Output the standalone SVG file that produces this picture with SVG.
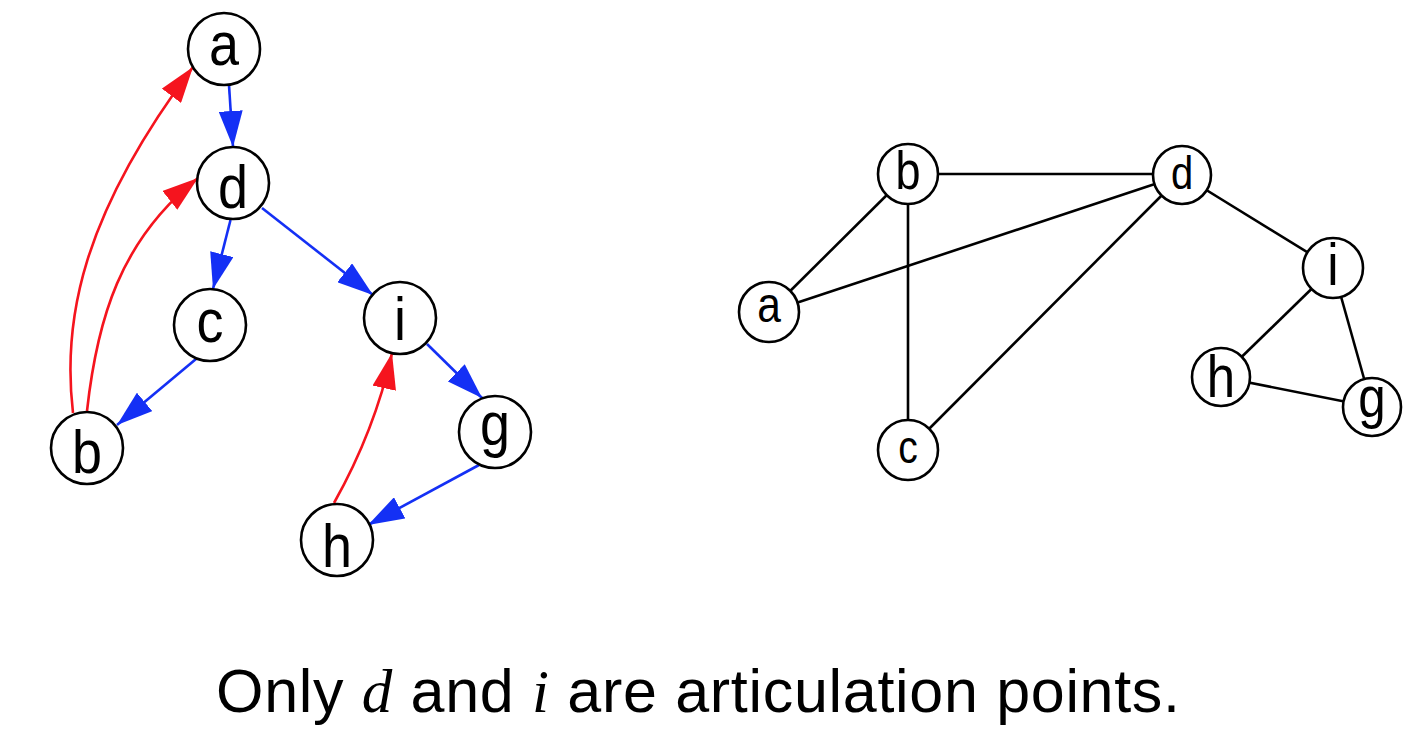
<svg xmlns="http://www.w3.org/2000/svg" width="1420" height="736" viewBox="0 0 1420 736">
<style>
.node{fill:#fff;stroke:#000;stroke-width:2.6}
.lbl{font-family:"Liberation Sans",Arial,sans-serif;text-anchor:middle;fill:#000}
.blue{fill:none;stroke:#1430f5;stroke-width:2.6}
.red{fill:none;stroke:#f5141e;stroke-width:2.6}
.und{stroke:#000;stroke-width:2.6;fill:none}
.cap{font-family:"Liberation Sans",Arial,sans-serif;font-size:61px;fill:#000}
.math{font-family:"Liberation Serif","Times New Roman",serif;font-style:italic}
</style>
<defs>
<marker id="ab" markerUnits="userSpaceOnUse" markerWidth="36" markerHeight="24" refX="36" refY="12" orient="auto" viewBox="0 0 36 24">
<path d="M0,0 L36,12 L0,24 Z" fill="#1430f5"/>
</marker>
<marker id="ar" markerUnits="userSpaceOnUse" markerWidth="36" markerHeight="24" refX="36" refY="12" orient="auto" viewBox="0 0 36 24">
<path d="M0,0 L36,12 L0,24 Z" fill="#f5141e"/>
</marker>
</defs>
<g id="connectors">
<path class="blue" marker-end="url(#ab)" d="M229,85 L233,147"/>
<path class="blue" marker-end="url(#ab)" d="M230.5,220 L213,289"/>
<path class="blue" marker-end="url(#ab)" d="M262,208 L373,295"/>
<path class="blue" marker-end="url(#ab)" d="M196,359 L117,425"/>
<path class="blue" marker-end="url(#ab)" d="M427,344 L482,398"/>
<path class="blue" marker-end="url(#ab)" d="M479,465 L368,525"/>
<path class="red" marker-end="url(#ar)" d="M73,413 C62,320 82,215 193,67"/>
<path class="red" marker-end="url(#ar)" d="M87,411 C97,320 120,240 198,178"/>
<path class="red" marker-end="url(#ar)" d="M334,503 Q375,430 392,353"/>
<line class="und" x1="908" y1="174" x2="1182" y2="174"/>
<line class="und" x1="769" y1="312" x2="908" y2="174"/>
<line class="und" x1="769" y1="312" x2="1182" y2="175"/>
<line class="und" x1="908" y1="174" x2="908" y2="450"/>
<line class="und" x1="908" y1="450" x2="1182" y2="175"/>
<line class="und" x1="1182" y1="175" x2="1333" y2="268"/>
<line class="und" x1="1333" y1="268" x2="1221" y2="377"/>
<line class="und" x1="1333" y1="268" x2="1372" y2="407"/>
<line class="und" x1="1221" y1="377" x2="1372" y2="407"/>
</g>
<g id="L_a"><circle class="node" cx="224" cy="49" r="36"/><text class="lbl" font-size="62" transform="translate(224,65) scale(0.87,1)">a</text></g>
<g id="L_d"><circle class="node" cx="233" cy="183" r="36"/><text class="lbl" font-size="62" transform="translate(233,208) scale(0.87,1)">d</text></g>
<g id="L_c"><circle class="node" cx="210" cy="325" r="36"/><text class="lbl" font-size="62" transform="translate(210,342) scale(0.87,1)">c</text></g>
<g id="L_i"><circle class="node" cx="400" cy="318" r="36"/><text class="lbl" font-size="62" transform="translate(400,340) scale(0.87,1)">i</text></g>
<g id="L_b"><circle class="node" cx="87" cy="448" r="36"/><text class="lbl" font-size="62" transform="translate(87,473) scale(0.87,1)">b</text></g>
<g id="L_g"><circle class="node" cx="495" cy="432" r="36"/><text class="lbl" font-size="62" transform="translate(495,445) scale(0.87,1)">g</text></g>
<g id="L_h"><circle class="node" cx="337" cy="540" r="36"/><text class="lbl" font-size="62" transform="translate(337,567) scale(0.87,1)">h</text></g>
<g id="R_a"><circle class="node" cx="769" cy="312" r="30"/><text class="lbl" font-size="50" transform="translate(769,322) scale(0.85,1)">a</text></g>
<g id="R_b"><circle class="node" cx="908" cy="174" r="30"/><text class="lbl" font-size="53" transform="translate(908,189) scale(0.85,1)">b</text></g>
<g id="R_c"><circle class="node" cx="908" cy="450" r="30"/><text class="lbl" font-size="46" transform="translate(908,463) scale(0.85,1)">c</text></g>
<g id="R_d"><circle class="node" cx="1182" cy="175" r="29"/><text class="lbl" font-size="47" transform="translate(1182,189) scale(0.85,1)">d</text></g>
<g id="R_i"><circle class="node" cx="1333" cy="268" r="30"/><text class="lbl" font-size="60" transform="translate(1333,285) scale(0.85,1)">i</text></g>
<g id="R_h"><circle class="node" cx="1221" cy="377" r="29"/><text class="lbl" font-size="60" transform="translate(1221,397) scale(0.85,1)">h</text></g>
<g id="R_g"><circle class="node" cx="1372" cy="407" r="29"/><text class="lbl" font-size="58" transform="translate(1372,417) scale(0.85,1)">g</text></g>
<text class="cap" x="216" y="712" textLength="964" lengthAdjust="spacing">Only <tspan class="math">d</tspan> and <tspan class="math">i</tspan> are articulation points.</text>
</svg>
